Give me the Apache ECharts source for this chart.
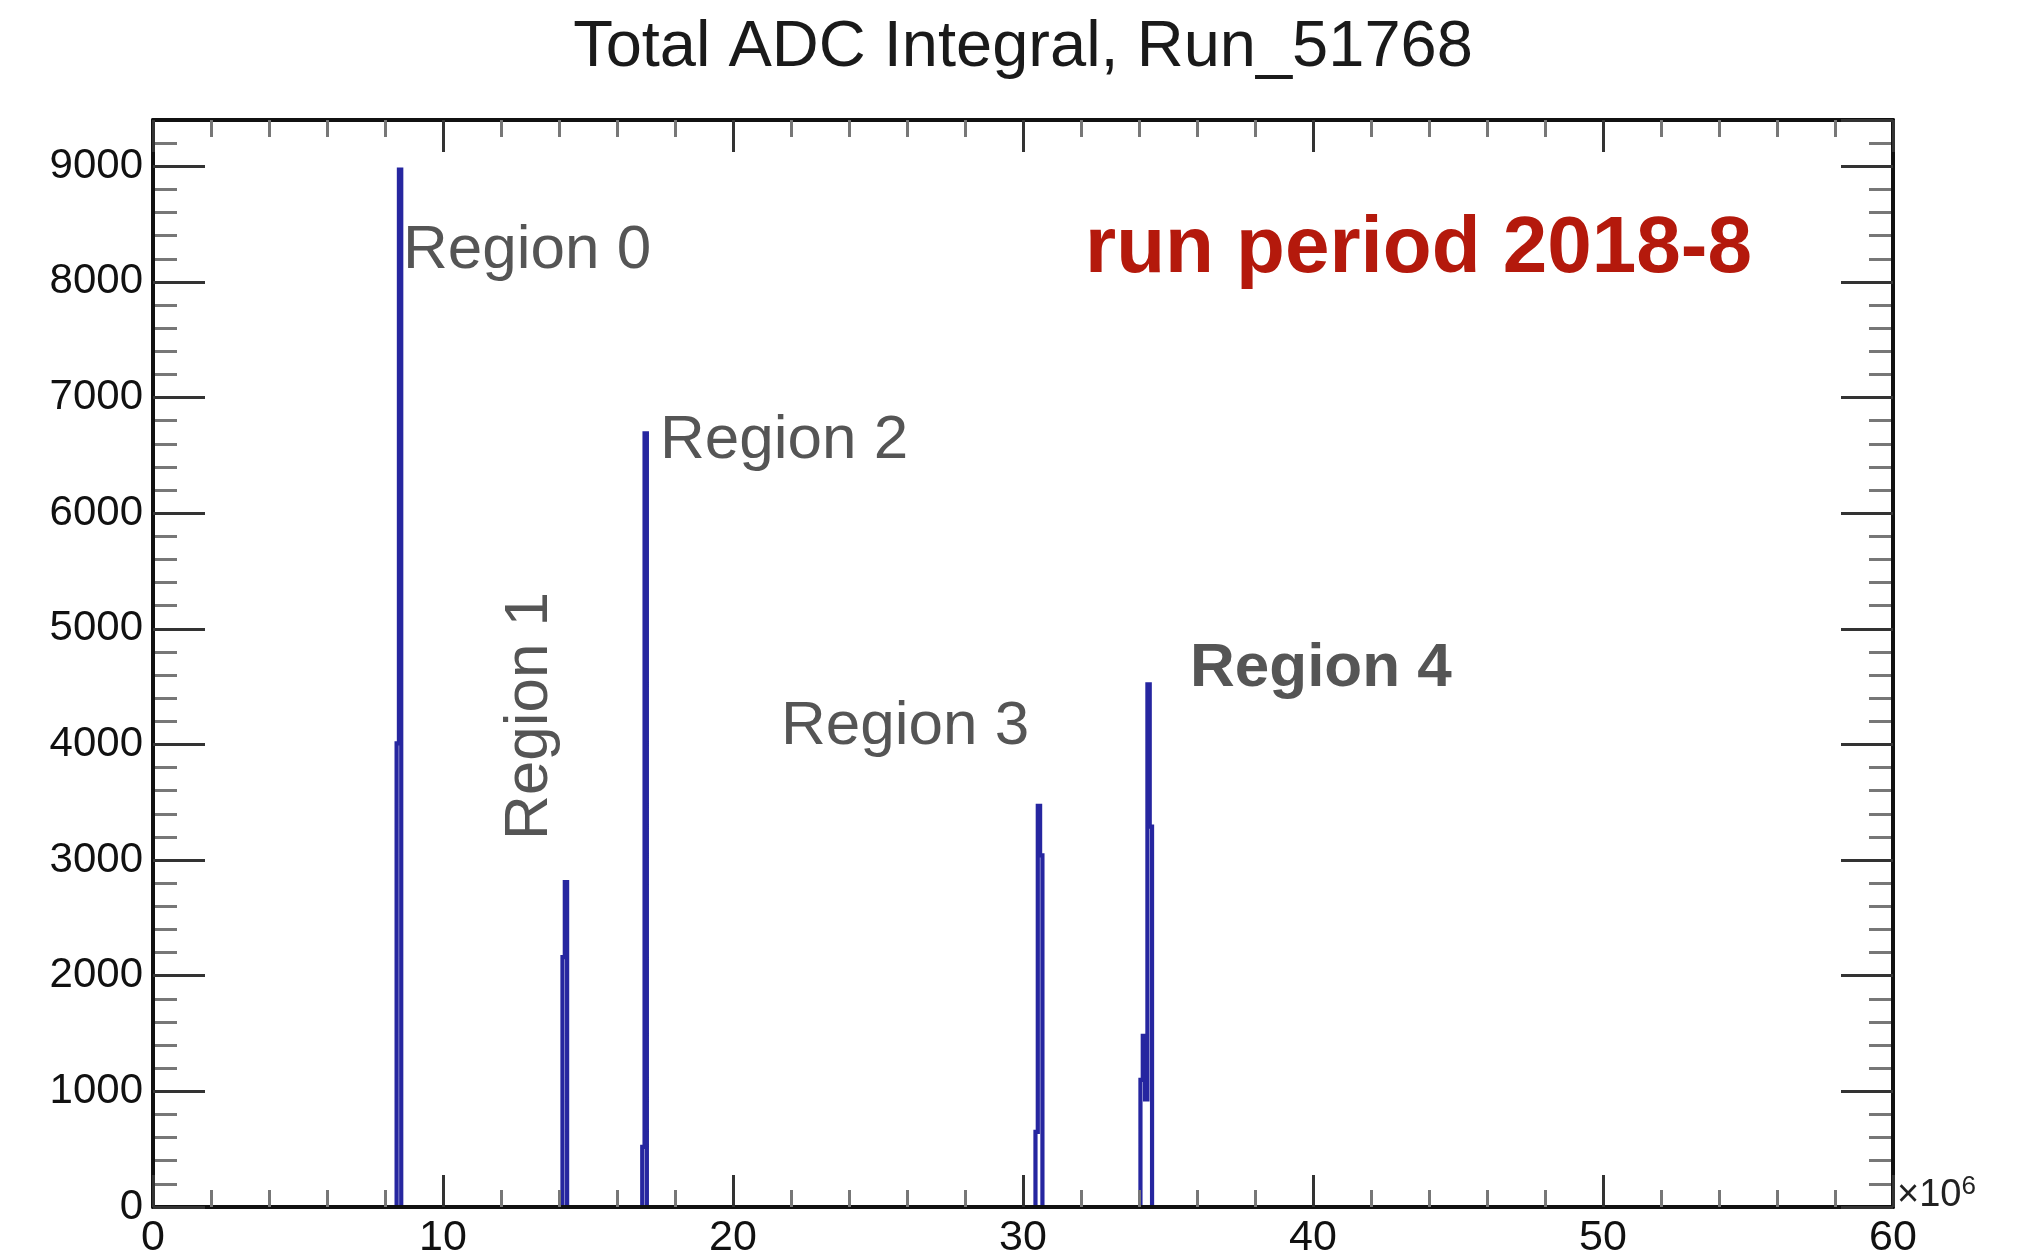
<!DOCTYPE html>
<html><head><meta charset="utf-8">
<script src="https://cdn.jsdelivr.net/npm/echarts@6/dist/echarts.min.js"></script>
<style>html,body{margin:0;padding:0;background:#fff}#c{width:2018px;height:1254px}</style>
</head><body><div id="c"></div>
<script>
// ---- data (x in units of 10^6) ----
const titleText = 'Total ADC Integral, Run_51768';
const periodText = 'run period 2018-8';
const binWidth = 0.08;
const binLowEdges = [8.40, 8.48, 14.12, 14.20, 16.87, 16.95, 30.43, 30.51, 30.59, 34.05, 34.13, 34.21, 34.29, 34.37];
const binCounts   = [4010, 8970, 2160, 2810,  520, 6690,  650, 3470, 3040, 1100, 1480,  930, 4520, 3290];
const xRange = [0, 60];
const yRange = [0, 9400];
const xMajorStep = 10;
const yMajorStep = 1000;
const yMinorStep = 200;
const regionNames = ['Region 0', 'Region 1', 'Region 2', 'Region 3', 'Region 4'];
const xUnitLabel = '×10';
const xUnitExp = '6';

// ---- build histogram outline from bins ----
const outline = [[xRange[0], 0]];
for (let i = 0; i < binLowEdges.length; i++) {
  const lo = binLowEdges[i], hi = lo + binWidth;
  const prevAdj = i > 0 && Math.abs(binLowEdges[i - 1] + binWidth - lo) < 1e-6;
  const nextAdj = i < binLowEdges.length - 1 && Math.abs(binLowEdges[i + 1] - hi) < 1e-6;
  if (!prevAdj) outline.push([lo, 0]);
  outline.push([lo, binCounts[i]]);
  outline.push([hi, binCounts[i]]);
  if (!nextAdj) outline.push([hi, 0]);
}
outline.push([xRange[1], 0]);

const FONT = '"Liberation Sans", Arial, Helvetica, sans-serif';
const frameColor = '#111';
const majorTickColor = '#333';
const minorTickColor = '#777';

const chart = echarts.init(document.getElementById('c'), null, {renderer: 'canvas'});

function xAx(pos, showLabel) {
  return {
    type: 'value', position: pos, min: xRange[0], max: xRange[1], interval: xMajorStep,
    axisLine: {show: true, onZero: false, lineStyle: {color: frameColor, width: 4}},
    axisTick: {show: true, inside: true, length: 32, lineStyle: {color: majorTickColor, width: 3}},
    minorTick: {show: true, splitNumber: 5, length: 17, lineStyle: {color: minorTickColor, width: 3}},
    splitLine: {show: false},
    axisLabel: {show: showLabel, fontSize: 43, color: '#111', fontFamily: FONT, margin: 10},
    z: 5
  };
}
function yAx(pos, showLabel, minor) {
  return {
    type: 'value', position: pos, min: yRange[0], max: yRange[1],
    interval: minor ? yMinorStep : yMajorStep,
    axisLine: {show: !minor, onZero: false, lineStyle: {color: frameColor, width: 4}},
    axisTick: {show: true, inside: true, length: minor ? 24 : 52,
      lineStyle: {color: minor ? minorTickColor : majorTickColor, width: 3}},
    splitLine: {show: false},
    axisLabel: {show: showLabel, showMaxLabel: false, fontSize: 42, color: '#111', fontFamily: FONT, margin: 10,
      formatter: function (v) { return String(v); }},
    z: minor ? 4 : 5
  };
}

function label(txt, x, y, size, weight, fill, align, rot) {
  return {
    type: 'text', x: x, y: y, rotation: rot || 0, z: 100,
    style: {
      text: txt, fontFamily: FONT, fontSize: size, fontWeight: weight || 'normal', fill: fill || '#555',
      align: align || 'left', verticalAlign: 'middle',
      textAlign: align || 'left', textVerticalAlign: 'middle'
    }
  };
}

chart.setOption({
  animation: false,
  backgroundColor: '#fff',
  grid: {left: 153, right: 125, top: 120, bottom: 47, containLabel: false, outerBoundsMode: 'none'},
  xAxis: [xAx('bottom', true), xAx('top', false)],
  yAxis: [yAx('left', true, false), yAx('right', false, false), yAx('left', false, true), yAx('right', false, true)],
  series: [{
    type: 'line', xAxisIndex: 0, yAxisIndex: 0, data: outline,
    symbol: 'none', showSymbol: false, clip: true,
    lineStyle: {color: '#2626a0', width: 4.2, join: 'miter'}, z: 3
  }],
  graphic: [
    label(titleText, 1023, 48, 65, 'normal', '#1a1a1a', 'center'),
    label(periodText, 1085, 250, 80, 'bold', '#b4190c', 'left'),
    label(regionNames[0], 403, 251, 62),
    label(regionNames[1], 530, 716, 62, 'normal', '#555', 'center', Math.PI / 2),
    label(regionNames[2], 660, 441, 62),
    label(regionNames[3], 781, 727, 62),
    label(regionNames[4], 1190, 669, 62, 'bold'),
    {
      type: 'text', x: 1897, y: 1196, z: 100,
      style: {
        text: xUnitLabel + '{sup|' + xUnitExp + '}', fontFamily: FONT, fontSize: 38, fill: '#222',
        align: 'left', verticalAlign: 'middle', textAlign: 'left', textVerticalAlign: 'middle',
        rich: {sup: {fontSize: 26, fontFamily: FONT, fill: '#222', verticalAlign: 'top', padding: [0, 0, 18, 0]}}
      }
    }
  ]
});
</script></body></html>
